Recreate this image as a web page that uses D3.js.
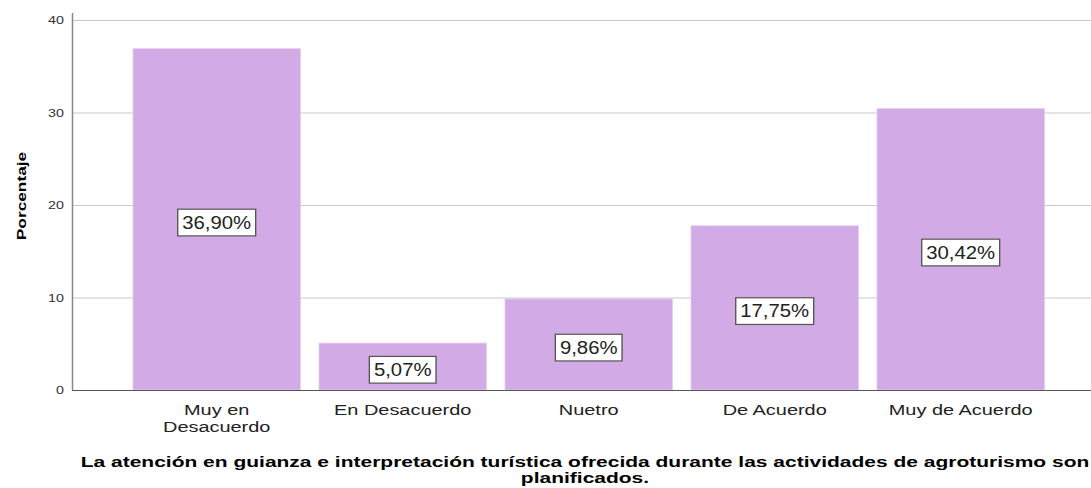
<!DOCTYPE html>
<html>
<head>
<meta charset="utf-8">
<script src="https://cdn.jsdelivr.net/npm/d3@7"></script>
<style>
  body { margin: 0; background: #fff; overflow: hidden; }
  text { font-family: "Liberation Sans", Arial, sans-serif; }
</style>
</head>
<body>
<script>
// datos del grafico
var categorias = [["Muy en", "Desacuerdo"], ["En Desacuerdo"], ["Nuetro"], ["De Acuerdo"], ["Muy de Acuerdo"]];
var porcentajes = [36.90, 5.07, 9.86, 17.75, 30.42];
var etiquetas = ["36,90%", "5,07%", "9,86%", "17,75%", "30,42%"];
var ticksY = [0, 10, 20, 30, 40];
var tituloX = ["La atención en guianza e interpretación turística ofrecida durante las actividades de agroturismo son", "planificados."];
var tituloY = "Porcentaje";

var width = 1091, height = 488;

var svg = d3.select("body").append("svg")
  .attr("width", width)
  .attr("height", height);

var y = d3.scaleLinear().domain([0, 40]).range([390, 20]);
var x = d3.scaleBand()
  .domain(d3.range(categorias.length))
  .range([123.7, 1053.7])
  .paddingInner(0.1)
  .paddingOuter(0.05);

// el texto del original sale mas ancho que Arial: se estira en horizontal
function estirado(px, py, sx) {
  return "translate(" + px + "," + py + ") scale(" + sx + ",1)";
}

// lineas de cuadricula
svg.selectAll(".grid").data(ticksY.slice(1)).enter().append("line")
  .attr("x1", 72).attr("x2", width)
  .attr("y1", function(d){ return y(d) + 0.5 })
  .attr("y2", function(d){ return y(d) + 0.5 })
  .attr("stroke", "#c9c9c9").attr("stroke-width", 1);

// barras
svg.selectAll(".bar").data(porcentajes).enter().append("rect")
  .attr("x", function(d, i){ return x(i) })
  .attr("y", function(d){ return y(d) })
  .attr("width", x.bandwidth())
  .attr("height", function(d){ return y(0) - y(d) })
  .attr("fill", "#d1aae6")
  .attr("stroke", "#e3cdf0").attr("stroke-width", 0.8);

// eje y
svg.append("line")
  .attr("x1", 72.5).attr("x2", 72.5)
  .attr("y1", 13).attr("y2", y(0))
  .attr("stroke", "#888").attr("stroke-width", 1.5);

svg.selectAll(".ticky").data(ticksY).enter().append("text")
  .attr("transform", function(d){ return estirado(64, y(d) + 4, 1.3) })
  .attr("text-anchor", "end")
  .attr("font-size", 11)
  .attr("fill", "#333")
  .text(function(d){ return d });

// eje x
svg.append("line")
  .attr("x1", 72).attr("x2", width)
  .attr("y1", y(0) + 0.5).attr("y2", y(0) + 0.5)
  .attr("stroke", "#555").attr("stroke-width", 1.2);

// etiquetas de valor
var etq = svg.selectAll(".etq").data(porcentajes).enter().append("g")
  .attr("transform", function(d, i){
    return estirado(x(i) + x.bandwidth() / 2, (y(d) + y(0)) / 2 + 3, 1.13);
  });
etq.append("text")
  .attr("text-anchor", "middle")
  .attr("dy", "0.35em")
  .attr("font-size", 18)
  .attr("fill", "#222")
  .text(function(d, i){ return etiquetas[i] });
etq.each(function(){
  var g = d3.select(this);
  var b = g.select("text").node().getBBox();
  g.insert("rect", "text")
    .attr("x", b.x - 4).attr("y", b.y - 3.5)
    .attr("width", b.width + 8).attr("height", b.height + 7)
    .attr("fill", "#fff").attr("stroke", "#555").attr("stroke-width", 1.2);
});

// etiquetas de categoria
svg.selectAll(".cat").data(categorias).enter().append("text")
  .attr("transform", function(d, i){ return estirado(x(i) + x.bandwidth() / 2, 415, 1.33) })
  .attr("text-anchor", "middle")
  .attr("font-size", 15)
  .attr("fill", "#222")
  .each(function(d){
    var t = d3.select(this);
    d.forEach(function(linea, j){
      t.append("tspan")
        .attr("x", 0)
        .attr("dy", j == 0 ? 0 : 17)
        .text(linea);
    });
  });

// titulo del eje x
svg.append("text")
  .attr("transform", estirado(585, 467, 1.4))
  .attr("text-anchor", "middle")
  .attr("font-size", 15).attr("font-weight", "bold").attr("fill", "#000")
  .selectAll("tspan").data(tituloX).enter().append("tspan")
  .attr("x", 0)
  .attr("dy", function(d, i){ return i == 0 ? 0 : 16 })
  .text(function(d){ return d });

// titulo del eje y
svg.append("text")
  .attr("transform", "translate(26,196) rotate(-90) scale(1.28,1)")
  .attr("text-anchor", "middle")
  .attr("font-size", 13.5).attr("font-weight", "bold").attr("fill", "#000")
  .text(tituloY);
</script>
</body>
</html>
